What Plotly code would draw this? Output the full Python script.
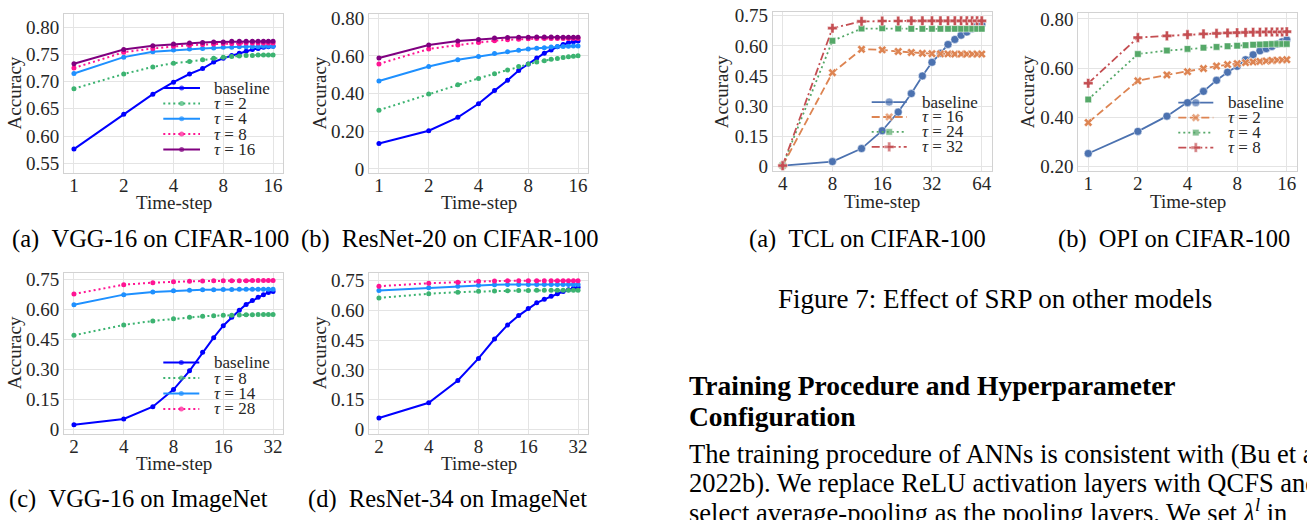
import math
import plotly.graph_objects as go

W, H = 1307, 520
SERIF = "Liberation Serif"
TXT = "#262626"

# ---------------- data ----------------
# (a) VGG-16 on CIFAR-100
a_steps = list(range(1, 17))
a_baseline = [0.576, 0.640, 0.677, 0.699, 0.714, 0.724, 0.736, 0.743, 0.748, 0.752, 0.756, 0.759, 0.761, 0.763, 0.764, 0.765]
a_tau2 = [0.687, 0.714, 0.727, 0.734, 0.737, 0.740, 0.743, 0.745, 0.746, 0.747, 0.748, 0.748, 0.749, 0.749, 0.749, 0.749]
a_tau4 = [0.715, 0.745, 0.755, 0.758, 0.760, 0.761, 0.762, 0.763, 0.763, 0.764, 0.764, 0.764, 0.764, 0.765, 0.765, 0.765]
a_tau8 = [0.725, 0.754, 0.761, 0.765, 0.767, 0.768, 0.769, 0.770, 0.770, 0.770, 0.771, 0.771, 0.771, 0.771, 0.771, 0.771]
a_tau16 = [0.733, 0.759, 0.766, 0.769, 0.771, 0.772, 0.773, 0.773, 0.774, 0.774, 0.774, 0.774, 0.774, 0.774, 0.774, 0.774]

# (b) ResNet-20 on CIFAR-100
b_steps = list(range(1, 17))
b_baseline = [0.135, 0.203, 0.274, 0.346, 0.416, 0.471, 0.523, 0.558, 0.589, 0.615, 0.632, 0.649, 0.661, 0.670, 0.675, 0.680]
b_tau2 = [0.312, 0.398, 0.447, 0.481, 0.506, 0.526, 0.544, 0.558, 0.568, 0.575, 0.582, 0.587, 0.592, 0.596, 0.599, 0.601]
b_tau4 = [0.467, 0.544, 0.580, 0.597, 0.613, 0.623, 0.630, 0.637, 0.641, 0.644, 0.648, 0.650, 0.651, 0.652, 0.653, 0.653]
b_tau8 = [0.558, 0.637, 0.658, 0.672, 0.681, 0.686, 0.689, 0.692, 0.693, 0.693, 0.693, 0.693, 0.693, 0.693, 0.693, 0.693]
b_tau16 = [0.589, 0.658, 0.679, 0.687, 0.696, 0.698, 0.699, 0.700, 0.701, 0.701, 0.701, 0.700, 0.700, 0.699, 0.699, 0.699]

# (c) VGG-16 on ImageNet
c_steps = list(range(2, 33, 2))
c_baseline = [0.021, 0.050, 0.112, 0.198, 0.292, 0.385, 0.458, 0.518, 0.560, 0.596, 0.625, 0.644, 0.661, 0.674, 0.685, 0.690]
c_tau8 = [0.470, 0.522, 0.542, 0.553, 0.560, 0.565, 0.568, 0.570, 0.571, 0.572, 0.573, 0.573, 0.574, 0.574, 0.574, 0.574]
c_tau14 = [0.623, 0.674, 0.687, 0.693, 0.696, 0.698, 0.699, 0.700, 0.700, 0.701, 0.701, 0.701, 0.701, 0.701, 0.701, 0.701]
c_tau28 = [0.677, 0.724, 0.734, 0.739, 0.741, 0.742, 0.743, 0.743, 0.744, 0.744, 0.744, 0.745, 0.745, 0.745, 0.745, 0.745]

# (d) ResNet-34 on ImageNet
d_steps = list(range(2, 33, 2))
d_baseline = [0.058, 0.135, 0.247, 0.358, 0.456, 0.527, 0.574, 0.610, 0.638, 0.656, 0.671, 0.684, 0.695, 0.704, 0.712, 0.717]
d_tau8 = [0.663, 0.684, 0.692, 0.696, 0.698, 0.699, 0.700, 0.700, 0.701, 0.701, 0.701, 0.701, 0.701, 0.701, 0.701, 0.701]
d_tau14 = [0.700, 0.714, 0.722, 0.727, 0.729, 0.730, 0.730, 0.730, 0.730, 0.730, 0.730, 0.730, 0.730, 0.730, 0.730, 0.730]
d_tau28 = [0.722, 0.737, 0.742, 0.747, 0.748, 0.749, 0.749, 0.749, 0.749, 0.749, 0.749, 0.749, 0.749, 0.749, 0.749, 0.749]

# (e) TCL on CIFAR-100
e_steps = list(range(4, 65, 4))
e_baseline = [0.003, 0.023, 0.088, 0.177, 0.270, 0.362, 0.450, 0.518, 0.563, 0.607, 0.632, 0.653, 0.669, 0.685, 0.698, 0.706]
e_tau16 = [0.003, 0.466, 0.583, 0.580, 0.572, 0.567, 0.563, 0.561, 0.560, 0.560, 0.559, 0.559, 0.559, 0.559, 0.559, 0.559]
e_tau24 = [0.003, 0.625, 0.686, 0.688, 0.686, 0.685, 0.685, 0.685, 0.685, 0.685, 0.685, 0.685, 0.685, 0.685, 0.685, 0.685]
e_tau32 = [0.003, 0.688, 0.722, 0.724, 0.724, 0.725, 0.725, 0.725, 0.725, 0.725, 0.725, 0.725, 0.725, 0.725, 0.725, 0.725]

# (f) OPI on CIFAR-100
f_steps = list(range(1, 17))
f_baseline = [0.252, 0.342, 0.404, 0.459, 0.505, 0.550, 0.583, 0.607, 0.634, 0.654, 0.670, 0.679, 0.688, 0.698, 0.707, 0.715]
f_tau2 = [0.378, 0.548, 0.572, 0.585, 0.598, 0.608, 0.614, 0.618, 0.622, 0.625, 0.627, 0.629, 0.631, 0.632, 0.633, 0.634]
f_tau4 = [0.472, 0.657, 0.671, 0.678, 0.683, 0.686, 0.689, 0.691, 0.693, 0.695, 0.696, 0.697, 0.698, 0.698, 0.698, 0.698]
f_tau8 = [0.538, 0.724, 0.731, 0.736, 0.739, 0.741, 0.743, 0.744, 0.745, 0.746, 0.746, 0.747, 0.747, 0.747, 0.747, 0.748]

x_ticks_a = [1, 2, 4, 8, 16]
x_ticks_c = [2, 4, 8, 16, 32]
x_ticks_e = [4, 8, 16, 32, 64]
y_ticks_a = [0.55, 0.60, 0.65, 0.70, 0.75, 0.80]
y_ticks_b = [0, 0.20, 0.40, 0.60, 0.80]
y_ticks_c = [0, 0.15, 0.30, 0.45, 0.60, 0.75]
y_ticks_f = [0.20, 0.40, 0.60, 0.80]

subcaptions = ["(a)\u00a0\u00a0VGG-16 on CIFAR-100", "(b)\u00a0\u00a0ResNet-20 on CIFAR-100",
               "(c)\u00a0\u00a0VGG-16 on ImageNet", "(d)\u00a0\u00a0ResNet-34 on ImageNet",
               "(a)\u00a0\u00a0TCL on CIFAR-100", "(b)\u00a0\u00a0OPI on CIFAR-100"]
fig_caption = "Figure 7: Effect of SRP on other models"
heading_lines = ["Training Procedure and Hyperparameter", "Configuration"]
body_lines = ["The training procedure of ANNs is consistent with (Bu et al.",
              "2022b). We replace ReLU activation layers with QCFS and",
              "select average-pooling as the pooling layers. We set <i>λ</i><sup><i>l</i></sup> in"]

# ---------------- styles ----------------
BLUE, GREEN, LBLUE, PINK, PURPLE = "#0000ff", "#3cb371", "#1e90ff", "#ff1493", "#800080"
DB, DO, DG, DR = "#4c72b0", "#dd8452", "#55a868", "#c44e52"
DOT = "2px,3px"
DASH = "8px,3.5px"
DASHDOT = "8px,3px,2px,3px"

def tau(v):
    return "<i>τ</i> = %s" % v

def fmt(v):
    return "0" if v == 0 else "%.2f" % v

panels = [
    dict(fr=(64, 283, 8, 171), yr=(0.532, 0.8246), xt=x_ticks_a, yt=y_ticks_a,
         series=[(a_steps, a_baseline, "baseline", BLUE, "solid", "circle"),
                 (a_steps, a_tau2, tau(2), GREEN, DOT, "circle"),
                 (a_steps, a_tau4, tau(4), LBLUE, "solid", "circle"),
                 (a_steps, a_tau8, tau(8), PINK, DOT, "circle"),
                 (a_steps, a_tau16, tau(16), PURPLE, "solid", "circle")],
         legend=(163.3, 200.0, 212.0, 84.0, 15.7), big=False,
         ytitle_x=14, xtitle_y=201.5),
    dict(fr=(369, 588, 8, 171), yr=(-0.022, 0.824), xt=x_ticks_a, yt=y_ticks_b,
         series=[(b_steps, b_baseline, "baseline", BLUE, "solid", "circle"),
                 (b_steps, b_tau2, tau(2), GREEN, DOT, "circle"),
                 (b_steps, b_tau4, tau(4), LBLUE, "solid", "circle"),
                 (b_steps, b_tau8, tau(8), PINK, DOT, "circle"),
                 (b_steps, b_tau16, tau(16), PURPLE, "solid", "circle")],
         legend=None, big=False, ytitle_x=319, xtitle_y=201.5),
    dict(fr=(64, 283, 273, 438), yr=(-0.0245, 0.784), xt=x_ticks_c, yt=y_ticks_c,
         series=[(c_steps, c_baseline, "baseline", BLUE, "solid", "circle"),
                 (c_steps, c_tau8, tau(8), GREEN, DOT, "circle"),
                 (c_steps, c_tau14, tau(14), LBLUE, "solid", "circle"),
                 (c_steps, c_tau28, tau(28), PINK, DOT, "circle")],
         legend=(163.3, 199.3, 212.3, 365.0, 15.8), big=False, ytitle_x=14, xtitle_y=468),
    dict(fr=(369, 588, 273, 438), yr=(-0.022, 0.79), xt=x_ticks_c, yt=y_ticks_c,
         series=[(d_steps, d_baseline, "baseline", BLUE, "solid", "circle"),
                 (d_steps, d_tau8, tau(8), GREEN, DOT, "circle"),
                 (d_steps, d_tau14, tau(14), LBLUE, "solid", "circle"),
                 (d_steps, d_tau28, tau(28), PINK, DOT, "circle")],
         legend=None, big=False, ytitle_x=319, xtitle_y=468),
    dict(fr=(772.7, 991.7, 6, 169.3), yr=(-0.0258, 0.7695), xt=x_ticks_e, yt=y_ticks_c,
         series=[(e_steps, e_baseline, "baseline", DB, "solid", "circle"),
                 (e_steps, e_tau16, tau(16), DO, DASH, "x"),
                 (e_steps, e_tau24, tau(24), DG, DOT, "square"),
                 (e_steps, e_tau32, tau(32), DR, DASHDOT, "cross")],
         legend=(871.7, 906.7, 920.0, 98.3, 15.3), big=True, ytitle_x=721.7, xtitle_y=200),
    dict(fr=(1078.3, 1296.7, 6.7, 169.3), yr=(0.179, 0.826), xt=x_ticks_a, yt=y_ticks_f,
         series=[(f_steps, f_baseline, "baseline", DB, "solid", "circle"),
                 (f_steps, f_tau2, tau(2), DO, DASH, "x"),
                 (f_steps, f_tau4, tau(4), DG, DOT, "square"),
                 (f_steps, f_tau8, tau(8), DR, DASHDOT, "cross")],
         legend=(1178.3, 1213.3, 1226.0, 99.0, 15.3), big=True, ytitle_x=1028.3, xtitle_y=200),
]

BIG_SIZES = {"circle": 8, "x": 7.5, "square": 6.5, "cross": 8}

def marker_for(color, symbol, big):
    if big:
        return dict(symbol=symbol, size=BIG_SIZES[symbol], color=color,
                    line=dict(color="white", width=0.5))
    return dict(symbol="circle", size=5, color=color, line=dict(width=0))

fig = go.Figure()
layout = dict(width=W, height=H, margin=dict(l=0, r=0, t=0, b=0),
              paper_bgcolor="white", plot_bgcolor="rgba(0,0,0,0)",
              showlegend=False, hovermode=False,
              font=dict(family=SERIF, color=TXT, size=19))
annotations = []

def ann(text, x, y, size, color="black", xanchor="center", angle=0, bold=False):
    if bold:
        text = "<b>%s</b>" % text
    annotations.append(dict(text=text, x=x / W, y=1 - y / H, xref="paper", yref="paper",
                            xanchor=xanchor, yanchor="middle", showarrow=False,
                            textangle=angle, font=dict(family=SERIF, size=size, color=color)))

for i, p in enumerate(panels, start=1):
    l, r, t, b = p["fr"]
    xs = "" if i == 1 else str(i)
    steps = p["series"][0][0]
    lo, hi = math.log10(min(steps)), math.log10(max(steps))
    pad = 0.05 * (hi - lo)
    layout["xaxis" + xs] = dict(domain=[l / W, r / W], anchor="y" + xs, type="log",
                                range=[lo - pad, hi + pad], tickvals=p["xt"],
                                ticktext=[str(v) for v in p["xt"]],
                                showgrid=True, gridcolor="#e4e4e4", gridwidth=1,
                                showline=True, mirror=True, linecolor="#d2d2d2", linewidth=1,
                                zeroline=False, ticks="", ticklabelstandoff=-5,
                                tickfont=dict(size=19, color=TXT))
    layout["yaxis" + xs] = dict(domain=[1 - b / H, 1 - t / H], anchor="x" + xs,
                                range=list(p["yr"]), tickvals=p["yt"],
                                ticktext=[fmt(v) for v in p["yt"]],
                                showgrid=True, gridcolor="#e4e4e4", gridwidth=1,
                                showline=True, mirror=True, linecolor="#d2d2d2", linewidth=1,
                                zeroline=False, ticks="", tickfont=dict(size=19, color=TXT))
    lw = 1.8 if p["big"] else 2
    for (xv, yv, name, color, dash, sym) in p["series"]:
        fig.add_trace(go.Scatter(x=xv, y=yv, mode="lines+markers", name=name,
                                 xaxis="x" + xs, yaxis="y" + xs, cliponaxis=True,
                                 line=dict(color=color, width=lw, dash=dash),
                                 marker=marker_for(color, sym, p["big"])))
    ann("Accuracy", p["ytitle_x"], (t + b) / 2, 19, color=TXT, angle=-90)
    ann("Time-step", (l + r) / 2, p["xtitle_y"], 19, color=TXT)

# overlay pixel-space axes for the legend keys
layout["xaxis7"] = dict(domain=[0, 1], range=[0, W], visible=False, anchor="y7", fixedrange=True)
layout["yaxis7"] = dict(domain=[0, 1], range=[H, 0], visible=False, anchor="x7", fixedrange=True)

for p in panels:
    if not p["legend"]:
        continue
    x0, x1, xt, y0, dy = p["legend"]
    lw = 1.8 if p["big"] else 2
    for k, (xv, yv, name, color, dash, sym) in enumerate(p["series"]):
        y = y0 + k * dy
        mk = marker_for(color, sym, p["big"])
        mk["size"] = [0, mk["size"], 0]
        fig.add_trace(go.Scatter(x=[x0, (x0 + x1) / 2, x1], y=[y, y, y], mode="lines+markers",
                                 xaxis="x7", yaxis="y7", line=dict(color=color, width=lw, dash=dash),
                                 marker=mk, cliponaxis=False))
        ann(name, xt, y, 17, color=TXT, xanchor="left")

# captions and page text
cap_pos = [(150, 239), (450, 239), (138, 505), (447, 505), (867.5, 239), (1173.5, 239)]
for text, (cx, cy) in zip(subcaptions, cap_pos):
    ann(text, cx, cy, 24.5)
ann(fig_caption, 995, 300, 27)
for k, line in enumerate(heading_lines):
    ann(line, 687, 388 + k * 32, 27.5, xanchor="left", bold=True)
for k, line in enumerate(body_lines):
    ann(line, 687, 459 + k * 29, 26.5, xanchor="left")

layout["annotations"] = annotations
fig.update_layout(**layout)
fig.write_html("out.html", config={"displayModeBar": False, "staticPlot": True},
               post_script="document.body.style.margin='0';document.body.style.overflow='hidden';")
